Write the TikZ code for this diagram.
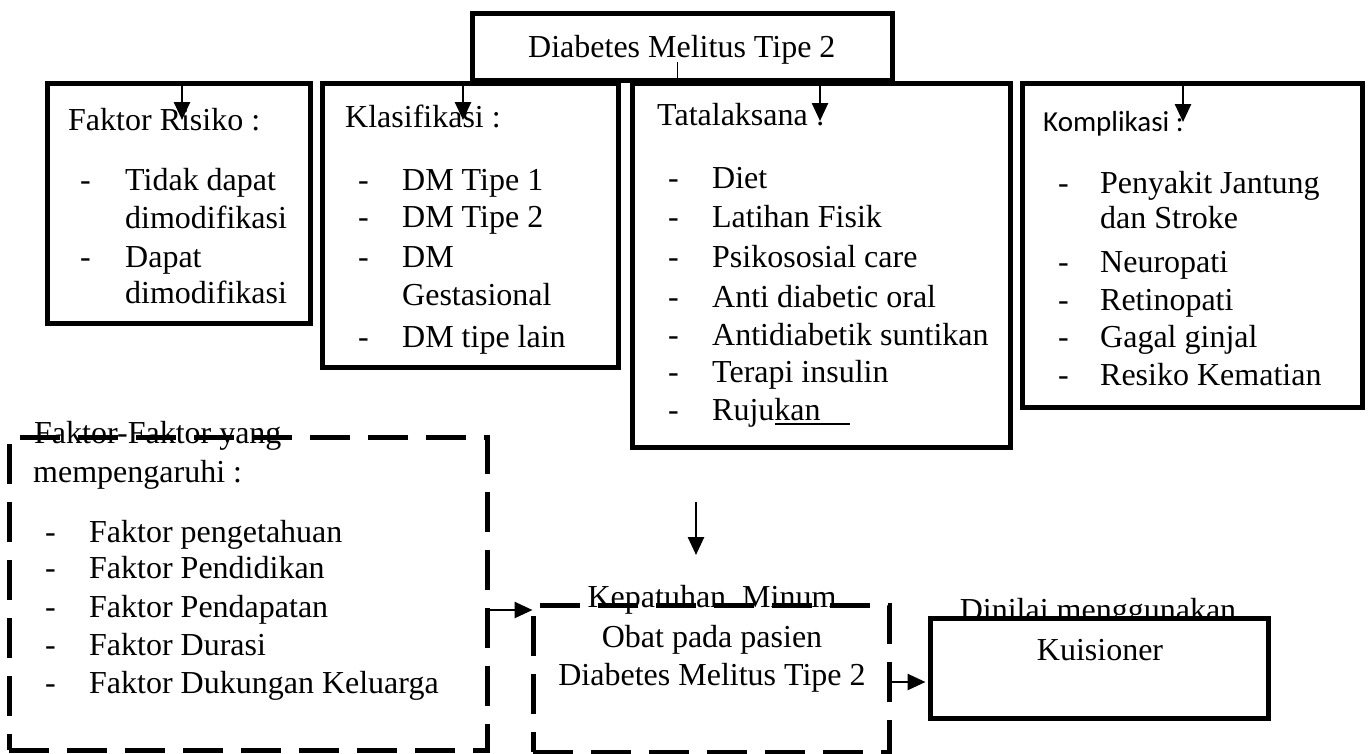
\documentclass[tikz,border=0pt]{standalone}
\usepackage{fontspec}
\setmainfont{Liberation Serif}
\newfontfamily\calib{Carlito}
\usetikzlibrary{arrows.meta}
\tikzset{
  box/.style={draw, line width=5pt, inner sep=0pt, fill=white},
  dbox/.style={draw, line width=5pt, inner sep=0pt, dash pattern=on 40pt off 18pt},
  txt/.style={inner sep=0pt, font=\fontsize{32}{38}\selectfont},
  ktxt/.style={inner sep=0pt, font=\calib\fontsize{29}{34}\selectfont},
  arr/.style={line width=2.6pt, -{Triangle[length=18pt,width=16pt]}},
}
\begin{document}
\begin{tikzpicture}[x=1pt,y=-1pt]
\useasboundingbox (0,0) rectangle (1368,753);
% four boxes
\node[box, minimum width=263pt, minimum height=240pt] (b1) at (178.5,203.5) {};
\node[box, minimum width=296pt, minimum height=284pt] (b2) at (470,225.5) {};
\node[box, minimum width=378pt, minimum height=364pt] (b3) at (821,265.5) {};
\node[box, minimum width=340pt, minimum height=324pt] (b4) at (1192,245.5) {};
% top box
\node[box, minimum width=420pt, minimum height=67pt] (top) at (682,46.5) {};
\node[txt, anchor=base west] (toptxt) at (528,57) {Diabetes Melitus Tipe 2};
\coordinate (tl1) at (677,62);
\coordinate (tl2) at (677,81);
\draw[line width=1pt] (tl1) -- (tl2);
% box1 text
\node[txt, anchor=base west] (b1t) at (68,130) {Faktor Risiko :};
\node[txt, anchor=base west] (b1a) at (80,190) {\makebox[45pt][l]{-}Tidak dapat};
\node[txt, anchor=base west] (b1b) at (125,228) {dimodifikasi};
\node[txt, anchor=base west] (b1c) at (80,267) {\makebox[45pt][l]{-}Dapat};
\node[txt, anchor=base west] (b1d) at (125,303) {dimodifikasi};
% box2 text
\node[txt, anchor=base west] (b2t) at (345,127) {Klasifikasi :};
\node[txt, anchor=base west] (b2a) at (358,190) {\makebox[44pt][l]{-}DM Tipe 1};
\node[txt, anchor=base west] (b2b) at (358,227) {\makebox[44pt][l]{-}DM Tipe 2};
\node[txt, anchor=base west] (b2c) at (358,267) {\makebox[44pt][l]{-}DM};
\node[txt, anchor=base west] (b2d) at (402,305) {Gestasional};
\node[txt, anchor=base west] (b2e) at (358,347) {\makebox[44pt][l]{-}DM tipe lain};
% box3 text
\node[txt, anchor=base west] (b3t) at (657,125) {Tatalaksana :};
\node[txt, anchor=base west] (b3a) at (668,188) {\makebox[44pt][l]{-}Diet};
\node[txt, anchor=base west] (b3b) at (668,227) {\makebox[44pt][l]{-}Latihan Fisik};
\node[txt, anchor=base west] (b3c) at (668,267) {\makebox[44pt][l]{-}Psikososial care};
\node[txt, anchor=base west] (b3d) at (668,307) {\makebox[44pt][l]{-}Anti diabetic oral};
\node[txt, anchor=base west] (b3e) at (668,345) {\makebox[44pt][l]{-}Antidiabetik suntikan};
\node[txt, anchor=base west] (b3f) at (668,382) {\makebox[44pt][l]{-}Terapi insulin};
\node[txt, anchor=base west] (b3g) at (668,420) {\makebox[44pt][l]{-}Rujukan};
\coordinate (ul1) at (775,424);
\coordinate (ul2) at (850,424);
\draw[line width=1.5pt] (ul1) -- (ul2);
% box4 text
\node[ktxt, anchor=base west] (b4t) at (1043,131) {Komplikasi :};
\node[txt, anchor=base west] (b4a) at (1058,193) {\makebox[42pt][l]{-}Penyakit Jantung};
\node[txt, anchor=base west] (b4b) at (1100,228) {dan Stroke};
\node[txt, anchor=base west] (b4c) at (1058,272) {\makebox[42pt][l]{-}Neuropati};
\node[txt, anchor=base west] (b4d) at (1058,310) {\makebox[42pt][l]{-}Retinopati};
\node[txt, anchor=base west] (b4e) at (1058,347) {\makebox[42pt][l]{-}Gagal ginjal};
\node[txt, anchor=base west] (b4f) at (1058,385) {\makebox[42pt][l]{-}Resiko Kematian};
% arrows into the four boxes
\draw[arr] (b1.north -| 182,0) -- (182,120);
\draw[arr] (b2.north -| 463,0) -- (463,120);
\draw[arr] (b3.north -| 820,0) -- (820,121);
\draw[arr] (b4.north -| 1183,0) -- (1183,122);
% factors dashed box
\node[txt, anchor=base west] (fft) at (34,443) {Faktor-Faktor yang};
\node[dbox, minimum width=478pt, minimum height=313pt] (ff) at (248,593.5) {};
\node[txt, anchor=base west] (ffm) at (33,482) {mempengaruhi :};
\node[txt, anchor=base west] (ffa) at (45,542) {\makebox[44pt][l]{-}Faktor pengetahuan};
\node[txt, anchor=base west] (ffb) at (45,578) {\makebox[44pt][l]{-}Faktor Pendidikan};
\node[txt, anchor=base west] (ffc) at (45,617) {\makebox[44pt][l]{-}Faktor Pendapatan};
\node[txt, anchor=base west] (ffd) at (45,655) {\makebox[44pt][l]{-}Faktor Durasi};
\node[txt, anchor=base west] (ffe) at (45,693) {\makebox[44pt][l]{-}Faktor Dukungan Keluarga};
% kepatuhan dashed box
\node[txt, anchor=base] (kpt) at (712,607) {Kepatuhan\ \ Minum};
\node[dbox, minimum width=356pt, minimum height=147pt] (kp) at (711,678.5) {};
\node[txt, anchor=base] (kpb) at (712,647) {Obat pada pasien};
\node[txt, anchor=base] (kpc) at (712,685) {Diabetes Melitus Tipe 2};
% kuisioner
\node[txt, anchor=base] (dn) at (1098,620) {Dinilai menggunakan};
\node[box, minimum width=338pt, minimum height=100pt] (ku) at (1099,668) {};
\node[txt, anchor=base] (kut) at (1100,660) {Kuisioner};
% connectors
\coordinate (ya) at (0,610);
\coordinate (yb) at (0,682);
\draw[arr] (ff.east |- ya) -- ([xshift=2pt]kp.west |- ya);
\draw[arr] (kp.east |- yb) -- ([xshift=-2pt]ku.west |- yb);
\coordinate (da) at (696,502);
\coordinate (db) at (696,555);
\draw[arr] (da) -- (db);
\end{tikzpicture}
\end{document}
